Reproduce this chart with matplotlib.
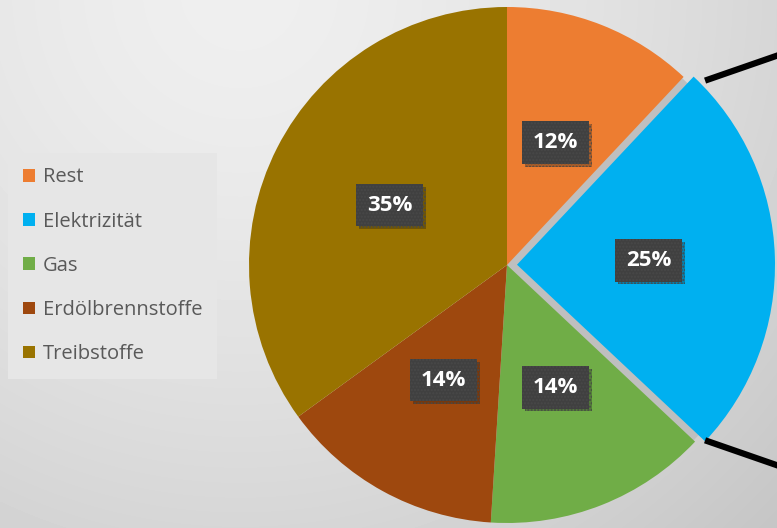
import numpy as np
import matplotlib.pyplot as plt
import matplotlib.patches as mpatches
import matplotlib.patheffects as pe

# data
categories = ["Rest", "Elektrizität", "Gas", "Erdölbrennstoffe", "Treibstoffe"]
shares = [12, 25, 14, 14, 35]
colors = ["#ED7D31", "#00B0F0", "#70AD47", "#9E480E", "#997300"]
explode = [0, 10, 0, 0, 0]

W, H = 777, 528
cx, cy, r = 507, H - 265, 258

fig = plt.figure(figsize=(W / 100, H / 100), dpi=100)
ax = fig.add_axes([0, 0, 1, 1])

# gray radial background
xx, yy = np.meshgrid(np.arange(W), np.arange(H))
d = np.hypot(xx - 240, yy + 10)
bg = np.clip(239 - 0.002 * d ** 1.5, 150, 255) / 255
ax.imshow(bg, cmap="gray", vmin=0, vmax=1, extent=[0, W, 0, H], origin="upper", zorder=0)

wedges, texts, autotexts = ax.pie(
    shares, colors=colors, explode=explode, startangle=90, counterclock=False,
    center=(cx, cy), radius=r, autopct="%1.0f%%", pctdistance=0.51,
    wedgeprops=dict(linewidth=0, zorder=2),
    textprops=dict(color="white", fontsize=16, fontweight="bold", family="Open Sans"))

# gray gap behind the pulled-out slice
b = wedges[1]
ax.add_patch(mpatches.Wedge((cx, cy), r * 0.99, b.theta1, b.theta2, color="#bfbfbf", zorder=1))

for t in autotexts:
    t.set_zorder(5)
    t.set_bbox(dict(boxstyle="square,pad=0.48", facecolor="#404040", edgecolor="#484848",
                    linewidth=0, hatch="....."))
    t.get_bbox_patch().set_path_effects([pe.SimplePatchShadow(offset=(2, -2), alpha=0.3), pe.Normal()])

# connector lines to the (cut off) second pie
bx, by = b.center
corners = [(bx + r * np.cos(np.deg2rad(a)), by + r * np.sin(np.deg2rad(a))) for a in (b.theta2, b.theta1)]
x0 = max(c[0] for c in corners)
for (_, y0), slope, dy in zip(corners, (0.347, -0.347), (-4, 1)):
    y0 = y0 + dy
    ax.plot([x0, x0 + 150], [y0, y0 + 150 * slope], color="black", lw=4.5, solid_capstyle="butt", zorder=3)

ax.set_xlim(0, W)
ax.set_ylim(0, H)
ax.set_aspect("auto")
ax.axis("off")

leg = ax.legend(wedges, categories, loc="upper left", bbox_to_anchor=(8 / W, 1 - 153 / H),
                borderaxespad=0, frameon=True, fancybox=False, framealpha=1,
                facecolor="#e6e6e6", edgecolor="none", handlelength=0.6, handleheight=0.6,
                handletextpad=0.4, labelspacing=1.2, borderpad=0.72,
                prop=dict(family="Open Sans", size=14.5))
for txt in leg.get_texts():
    txt.set_color("#595959")

plt.savefig("out.png", dpi=100)
